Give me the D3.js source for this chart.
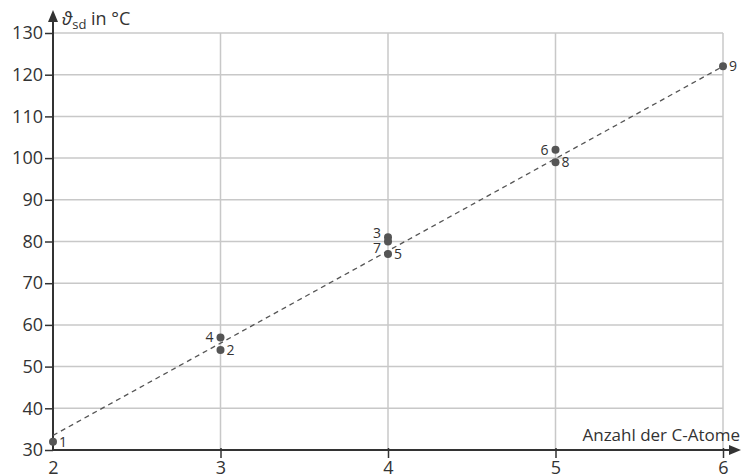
<!DOCTYPE html>
<html>
<head>
<meta charset="utf-8">
<script src="https://cdn.jsdelivr.net/npm/d3@7"></script>
<style>
    body { margin: 0; background: #fff; }
    svg { display: block; font-family: 'Open Sans', 'Noto Sans', sans-serif; }
</style>
</head>
<body>
<div class="canvas"></div>
<script>
// data
const ids = [1, 2, 3, 4, 5, 6, 7, 8, 9];
const atoms = [2, 3, 4, 3, 4, 5, 4, 5, 6];
const temps = [32, 54, 81, 57, 77, 102, 80, 99, 122];
const labelSide = ['r', 'r', 'lu', 'l', 'r', 'l', 'ld', 'r', 'r'];
const fitLine = [[2, 33.5], [6, 122]];
const xTicks = [2, 3, 4, 5, 6];
const yTicks = [30, 40, 50, 60, 70, 80, 90, 100, 110, 120, 130];

const width = 742;
const height = 475;
const margin = { top: 33, right: 19, bottom: 25, left: 53 };
const graphWidth = width - margin.left - margin.right;
const graphHeight = height - margin.top - margin.bottom;

const svg = d3.select('.canvas')
    .append('svg')
    .attr('width', width)
    .attr('height', height)
;

const graph = svg.append('g')
    .attr('transform', `translate(${margin.left}, ${margin.top})`)
;

// scales
const x = d3.scaleLinear().domain([2, 6]).range([0, graphWidth]);
const y = d3.scaleLinear().domain([30, 130]).range([graphHeight, 0]);

// grid
graph.append('g')
    .selectAll('line')
    .data(yTicks.slice(1))
    .join('line')
        .attr('x1', 0)
        .attr('x2', graphWidth)
        .attr('y1', d => y(d))
        .attr('y2', d => y(d))
        .attr('stroke', '#c8c8c8')
        .attr('stroke-width', 1.5)
;
graph.append('g')
    .selectAll('line')
    .data(xTicks.slice(1))
    .join('line')
        .attr('x1', d => x(d))
        .attr('x2', d => x(d))
        .attr('y1', 0)
        .attr('y2', graphHeight)
        .attr('stroke', '#c8c8c8')
        .attr('stroke-width', 1.5)
;

// axes
const xAxis = d3.axisBottom(x).tickValues(xTicks).tickFormat(d3.format('d'))
    .tickSize(8).tickSizeOuter(0).tickPadding(3);
const yAxis = d3.axisLeft(y).tickValues(yTicks).tickFormat(d3.format('d'))
    .tickSize(8).tickSizeOuter(0).tickPadding(2);

const xAxisGroup = graph.append('g')
    .attr('transform', `translate(0, ${graphHeight})`)
    .call(xAxis)
;
const yAxisGroup = graph.append('g').call(yAxis);

[xAxisGroup, yAxisGroup].forEach(g => {
    g.select('.domain').remove();
    g.selectAll('line').attr('stroke', '#333').attr('stroke-width', 1.5);
    g.selectAll('text')
        .attr('fill', '#333')
        .style('font-size', '18px')
        .style('font-family', "'Open Sans', sans-serif");
});
xAxisGroup.selectAll('.tick line').attr('y1', -2);
xAxisGroup.selectAll('.tick').filter(d => d === 2).select('line').remove();

// axis lines with arrows
graph.append('line')
    .attr('x1', 0).attr('x2', width - margin.left - 10)
    .attr('y1', graphHeight).attr('y2', graphHeight)
    .attr('stroke', '#333').attr('stroke-width', 2)
;
graph.append('path')
    .attr('d', `M${width - margin.left - 1},${graphHeight} l-12,-5 l0,10 z`)
    .attr('fill', '#333')
;
graph.append('line')
    .attr('x1', 0).attr('x2', 0)
    .attr('y1', graphHeight).attr('y2', -14)
    .attr('stroke', '#333').attr('stroke-width', 2)
;
graph.append('path')
    .attr('d', `M0,-23 l-5,12 l10,0 z`)
    .attr('fill', '#333')
;

// axis titles
const yTitle = svg.append('text')
    .attr('x', margin.left + 9)
    .attr('y', 25)
    .attr('fill', '#333')
    .style('font-size', '18px')
;
yTitle.append('tspan').text('ϑ').style('font-style', 'italic');
yTitle.append('tspan').text('sd').attr('dy', 4).style('font-size', '13px');
yTitle.append('tspan').text(' in °C').attr('dy', -4);

svg.append('text')
    .attr('x', width - 2)
    .attr('y', margin.top + graphHeight - 9)
    .attr('text-anchor', 'end')
    .attr('fill', '#333')
    .style('font-size', '17px')
    .text('Anzahl der C-Atome')
;

// fit line
const line = d3.line()
    .x(d => x(d[0]))
    .y(d => y(d[1]))
;
graph.append('path')
    .datum(fitLine)
    .attr('fill', 'none')
    .attr('stroke', '#555')
    .attr('stroke-width', 1.3)
    .attr('stroke-dasharray', '5,4')
    .attr('d', line)
;

// points
const points = ids.map((id, i) => ({ id, atoms: atoms[i], temp: temps[i], side: labelSide[i] }));

graph.selectAll('circle')
    .data(points)
    .join('circle')
        .attr('cx', d => x(d.atoms))
        .attr('cy', d => y(d.temp))
        .attr('r', 4)
        .attr('fill', '#555')
;

const labelDy = { r: 5, l: 5, lu: 1, ld: 11 };
graph.selectAll('.plabel')
    .data(points)
    .join('text')
        .attr('class', 'plabel')
        .attr('x', d => x(d.atoms) + (d.side === 'r' ? 6 : -7))
        .attr('y', d => y(d.temp) + labelDy[d.side])
        .attr('text-anchor', d => d.side === 'r' ? 'start' : 'end')
        .attr('fill', '#333')
        .style('font-size', '14px')
        .text(d => d.id)
;
</script>
</body>
</html>
